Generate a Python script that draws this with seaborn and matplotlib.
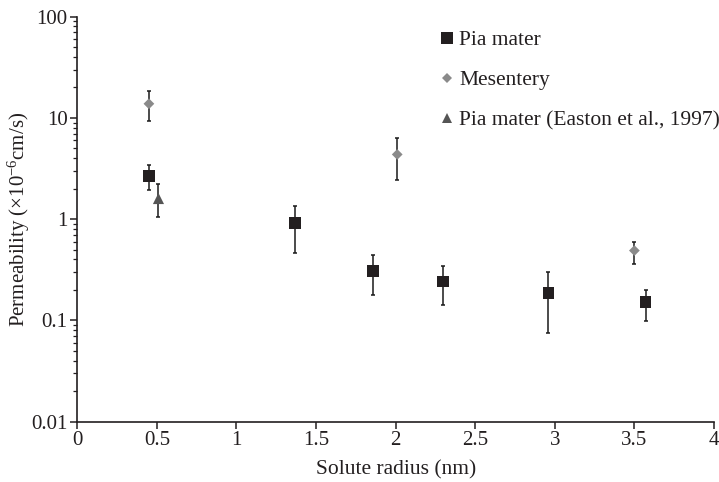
import numpy as np
import pandas as pd
import matplotlib
matplotlib.use("Agg")
import matplotlib.pyplot as plt
import matplotlib.ticker as mticker
from matplotlib.lines import Line2D
import seaborn as sns

# Solute radius (nm) and permeability (x10^-6 cm/s) with asymmetric error limits
pia_radius = [0.45, 1.37, 1.86, 2.30, 2.96, 3.57]
pia_perm = [2.66, 0.92, 0.306, 0.242, 0.187, 0.151]
pia_upper = [3.4, 1.35, 0.44, 0.343, 0.299, 0.200]
pia_lower = [1.93, 0.46, 0.177, 0.143, 0.0757, 0.0986]

mes_radius = [0.45, 2.01, 3.50]
mes_perm = [13.8, 4.36, 0.49]
mes_upper = [18.3, 6.3, 0.597]
mes_lower = [9.4, 2.43, 0.365]

easton_radius = [0.51]
easton_perm = [1.6]
easton_upper = [2.25]
easton_lower = [1.04]

series_names = ["Pia mater", "Mesentery", "Pia mater (Easton et al., 1997)"]
y_ticks = [0.01, 0.1, 1, 10, 100]
y_tick_labels = ["0.01", "0.1", "1", "10", "100"]
x_ticks = [0, 0.5, 1, 1.5, 2, 2.5, 3, 3.5, 4]
x_tick_labels = ["0", "0.5", "1", "1.5", "2", "2.5", "3", "3.5", "4"]

sns.set_style("ticks")
plt.rcParams["font.family"] = ["Liberation Serif", "DejaVu Serif"]
plt.rcParams["mathtext.fontset"] = "custom"
plt.rcParams["mathtext.rm"] = "Liberation Serif"
plt.rcParams["mathtext.it"] = "Liberation Serif:italic"

df = pd.concat([
    pd.DataFrame({"radius": pia_radius, "perm": pia_perm,
                  "upper": pia_upper, "lower": pia_lower, "series": series_names[0]}),
    pd.DataFrame({"radius": mes_radius, "perm": mes_perm,
                  "upper": mes_upper, "lower": mes_lower, "series": series_names[1]}),
    pd.DataFrame({"radius": easton_radius, "perm": easton_perm,
                  "upper": easton_upper, "lower": easton_lower, "series": series_names[2]}),
], ignore_index=True)

ink = "#231f20"
colors = {series_names[0]: ink, series_names[1]: "#8a8a8a", series_names[2]: "#555555"}
markers = {series_names[0]: "s", series_names[1]: "D", series_names[2]: "^"}
sizes = {series_names[0]: 72, series_names[1]: 30, series_names[2]: 64}

fig = plt.figure(figsize=(7.19, 4.82), dpi=100)
ax = fig.add_axes([0.1075, 0.1251, 0.8855, 0.8403])

# error bars first so the markers sit on top
for _, row in df.iterrows():
    ax.errorbar(row["radius"], row["perm"],
                yerr=[[row["perm"] - row["lower"]], [row["upper"] - row["perm"]]],
                fmt="none", ecolor="#1a1a1a", elinewidth=1.1, capsize=1.6,
                capthick=1.1, zorder=2)

for name in series_names:
    sub = df[df["series"] == name]
    sns.scatterplot(data=sub, x="radius", y="perm", ax=ax, marker=markers[name],
                    color=colors[name], s=sizes[name], edgecolor="none",
                    linewidth=0, zorder=3, legend=False)

ax.set_yscale("log")
ax.set_xlim(0, 4)
ax.set_ylim(0.01, 100)
ax.set_yticks(y_ticks)
ax.set_yticklabels(y_tick_labels)
ax.yaxis.set_minor_locator(mticker.LogLocator(base=10, subs=np.arange(2, 10)))
ax.yaxis.set_minor_formatter(mticker.NullFormatter())
ax.set_xticks(x_ticks)
ax.set_xticklabels(x_tick_labels)

for s in ["top", "right"]:
    ax.spines[s].set_visible(False)
for s in ["left", "bottom"]:
    ax.spines[s].set_color(ink)
    ax.spines[s].set_linewidth(1.2)

ax.tick_params(axis="both", which="major", direction="out", length=5, width=1.1,
               colors=ink, labelsize=15, pad=2)
ax.tick_params(axis="y", which="minor", direction="out", length=3, width=0.9,
               colors=ink)

ax.set_xlabel("Solute radius (nm)", fontsize=15.5, color=ink, labelpad=7)
ax.set_ylabel(r"Permeability (×10$^{-6}$cm/s)", fontsize=15, color=ink)
ax.yaxis.set_label_coords(-0.071, 0.5)

handles = [
    Line2D([], [], linestyle="none", marker="s", markersize=8.4,
           markerfacecolor=colors[series_names[0]], markeredgewidth=0),
    Line2D([], [], linestyle="none", marker="D", markersize=4.6,
           markerfacecolor=colors[series_names[1]], markeredgewidth=0),
    Line2D([], [], linestyle="none", marker="^", markersize=7.5,
           markerfacecolor=colors[series_names[2]], markeredgewidth=0),
]
ax.legend(handles, series_names, loc="upper left", bbox_to_anchor=(0.571, 0.967),
          frameon=False, fontsize=15.5, handlelength=0.6, handletextpad=0.25,
          labelspacing=0.93, borderaxespad=0, borderpad=0, labelcolor=ink)

fig.savefig("out.png", dpi=100)
